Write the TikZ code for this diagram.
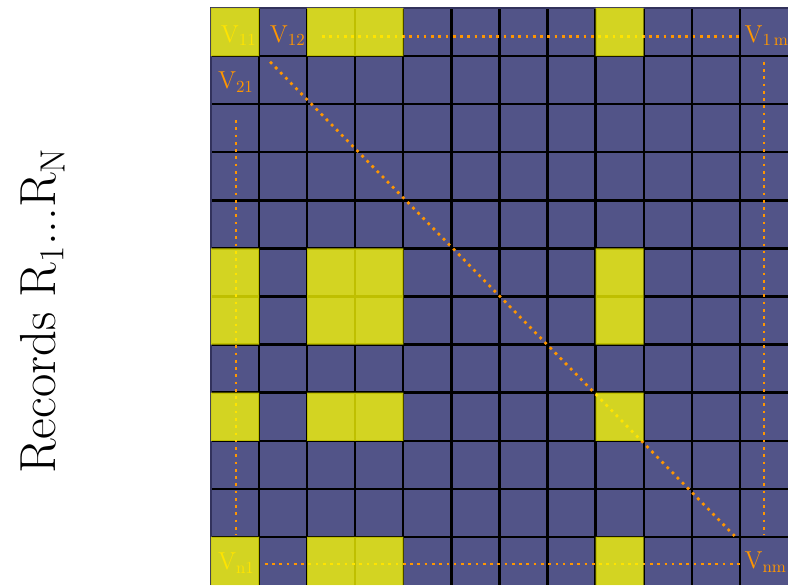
\documentclass[tikz,border=0pt]{standalone}
\usepackage{tikz}
\usetikzlibrary{positioning}
\definecolor{cellblue}{RGB}{82,84,136}
\definecolor{framenavy}{RGB}{50,50,92}
\definecolor{dotorange}{RGB}{255,150,0}
\definecolor{hiyellow}{RGB}{255,255,0}

\begin{document}
\begin{tikzpicture}[
    gridline/.style={black, line width=1.4pt},
    vlbl/.style={text=dotorange, inner sep=0pt, anchor=base west,
                 font=\fontsize{14.5}{16}\selectfont},
    dotline/.style={dotorange, line width=1.6pt, dash pattern=on 1.6pt off 2.7pt},
    hilite/.style={fill=hiyellow, fill opacity=0.75}
  ]
    \useasboundingbox (-4.387,0.166) rectangle (12,-12);

    %% Matrix background and grid
    \fill[cellblue] (0,0) rectangle (12,-12);
    \foreach \k in {1,...,11} {
      \draw[gridline] (\k,0) -- (\k,-12);
      \draw[gridline] (0,-\k) -- (12,-\k);
    }
    \draw[framenavy, line width=1.2pt] (0,-12) -- (0,0) -- (12,0);

    %% Axis label
    \node[rotate=90, anchor=base, inner sep=0pt,
          font=\fontsize{30}{32}\selectfont] (records) at (-3.24,-6.3)
      {Records R$_1$...R$_\mathrm{N}$};

    %% Cell labels
    \node[vlbl] (v11) at (0.2,-0.71)   {V$_{11}$};
    \node[vlbl] (v12) at (1.22,-0.71)  {V$_{12}$};
    \node[vlbl] (v1m) at (11.09,-0.71) {V$_{1\,\mathrm{m}}$};
    \node[vlbl] (v21) at (0.14,-1.68)  {V$_{21}$};
    \node[vlbl] (vn1) at (0.14,-11.68) {V$_{\mathrm{n}1}$};
    \node[vlbl] (vnm) at (11.09,-11.66) {V$_{\mathrm{nm}}$};

    %% Ends of the dotted runs
    \coordinate (toprowA) at (2.31,-0.60);
    \coordinate (toprowB) at (11.0,-0.60);
    \coordinate (lastcolA) at (11.5,-1.12);
    \coordinate (lastcolB) at (11.5,-10.96);
    \coordinate (firstcolA) at (0.52,-2.33);
    \coordinate (firstcolB) at (0.52,-10.96);
    \coordinate (botrowA) at (1.12,-11.56);
    \coordinate (botrowB) at (11.0,-11.56);
    \coordinate (diagA) at (1.23,-1.12);
    \coordinate (diagB) at (10.89,-10.98);

    \draw[dotline] (toprowA) -- (toprowB);
    \draw[dotline] (lastcolA) -- (lastcolB);
    \draw[dotline] (firstcolA) -- (firstcolB);
    \draw[dotline] (botrowA) -- (botrowB);
    \draw[dotline] (diagA) -- (diagB);

    %% Highlighted cells
    \fill[hilite] \foreach \r in {0,5,6,8,11} {
        \foreach \c in {0,2,3,8} { (\c,-\r) rectangle ++(1,-1) }
      };
  \end{tikzpicture}
\end{document}
